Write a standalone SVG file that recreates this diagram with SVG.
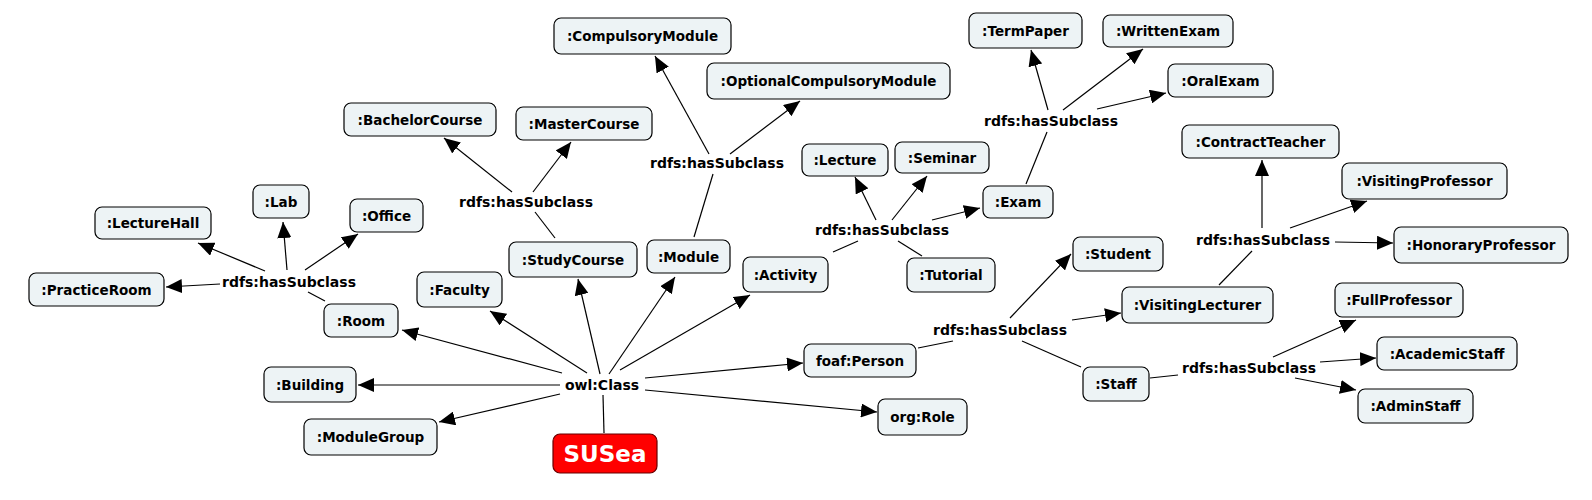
<svg xmlns="http://www.w3.org/2000/svg" width="1592" height="500" viewBox="0 0 1592 500">
<style>
.n rect{fill:#edf3f5;stroke:#000;stroke-width:1.2}
.n text{font-family:"DejaVu Sans",Verdana,sans-serif;font-weight:bold;font-size:13.5px;fill:#000;text-anchor:middle;dominant-baseline:central}
.lbl{font-family:"DejaVu Sans",Verdana,sans-serif;font-weight:bold;font-size:14px;fill:#000;text-anchor:middle;dominant-baseline:central}
.e line{stroke:#000;stroke-width:1.2}
.e line.a{marker-end:url(#ah)}
#susea rect{fill:#ff0000;stroke:#600}
#susea text{fill:#fff;font-size:23px}
</style>
<defs>
<marker id="ah" markerUnits="userSpaceOnUse" markerWidth="16" markerHeight="14" viewBox="0 0 16 14" refX="16" refY="7" orient="auto">
<path d="M0,0 L16,7 L0,14 z" fill="#000"/>
</marker>
</defs>
<rect width="1592" height="500" fill="#fff"/>
<g id="connectors" class="e">
<!-- owl:Class -->
<line class="a" x1="562" y1="373" x2="402" y2="330"/>
<line class="a" x1="560" y1="385" x2="358" y2="385"/>
<line class="a" x1="560" y1="394" x2="439" y2="422"/>
<line class="a" x1="587" y1="373" x2="490" y2="311"/>
<line class="a" x1="600" y1="374" x2="578" y2="279"/>
<line class="a" x1="609" y1="374" x2="675" y2="277"/>
<line class="a" x1="620" y1="370" x2="750" y2="295"/>
<line class="a" x1="645" y1="378" x2="803" y2="363"/>
<line class="a" x1="645" y1="390" x2="877" y2="412"/>
<line x1="603" y1="395" x2="604" y2="433"/>
<!-- Room -->
<line x1="325" y1="301" x2="308" y2="292"/>
<line class="a" x1="220" y1="284" x2="166" y2="287"/>
<line class="a" x1="265" y1="271" x2="198" y2="243"/>
<line class="a" x1="287" y1="270" x2="283" y2="222"/>
<line class="a" x1="305" y1="270" x2="358" y2="234"/>
<!-- StudyCourse -->
<line x1="555" y1="238" x2="535" y2="212"/>
<line class="a" x1="512" y1="192" x2="444" y2="138"/>
<line class="a" x1="533" y1="192" x2="571" y2="142"/>
<!-- Module -->
<line x1="694" y1="237" x2="713" y2="174"/>
<line class="a" x1="709" y1="154" x2="655" y2="56"/>
<line class="a" x1="730" y1="154" x2="800" y2="101"/>
<!-- Activity -->
<line x1="833" y1="252" x2="858" y2="241"/>
<line x1="898" y1="241" x2="922" y2="256"/>
<line class="a" x1="876" y1="220" x2="855" y2="177"/>
<line class="a" x1="892" y1="220" x2="927" y2="176"/>
<line class="a" x1="932" y1="220" x2="980" y2="208"/>
<!-- Exam -->
<line x1="1026" y1="184" x2="1047" y2="132"/>
<line class="a" x1="1048" y1="110" x2="1031" y2="50"/>
<line class="a" x1="1063" y1="110" x2="1143" y2="49"/>
<line class="a" x1="1097" y1="109" x2="1166" y2="93"/>
<!-- foaf:Person -->
<line x1="918" y1="348" x2="953" y2="341"/>
<line class="a" x1="1010" y1="318" x2="1071" y2="254"/>
<line class="a" x1="1072" y1="320" x2="1121" y2="313"/>
<line x1="1022" y1="341" x2="1081" y2="367"/>
<!-- VisitingLecturer -->
<line x1="1219" y1="285" x2="1252" y2="251"/>
<line class="a" x1="1262" y1="228" x2="1262" y2="160"/>
<line class="a" x1="1290" y1="228" x2="1367" y2="201"/>
<line class="a" x1="1335" y1="242" x2="1393" y2="243"/>
<!-- Staff -->
<line x1="1150" y1="378" x2="1178" y2="375"/>
<line class="a" x1="1273" y1="357" x2="1356" y2="320"/>
<line class="a" x1="1320" y1="362" x2="1376" y2="358"/>
<line class="a" x1="1295" y1="378" x2="1356" y2="390"/>
</g>
<g id="edge-labels">
<text class="lbl" x="602" y="385">owl:Class</text>
<text class="lbl" x="289" y="282">rdfs:hasSubclass</text>
<text class="lbl" x="526" y="202">rdfs:hasSubclass</text>
<text class="lbl" x="717" y="163">rdfs:hasSubclass</text>
<text class="lbl" x="882" y="230">rdfs:hasSubclass</text>
<text class="lbl" x="1051" y="121">rdfs:hasSubclass</text>
<text class="lbl" x="1000" y="330">rdfs:hasSubclass</text>
<text class="lbl" x="1263" y="240">rdfs:hasSubclass</text>
<text class="lbl" x="1249" y="368">rdfs:hasSubclass</text>
</g>
<g id="lecturehall" class="n"><rect x="95" y="207" width="116" height="32" rx="7"/><text x="153" y="223">:LectureHall</text></g>
<g id="lab" class="n"><rect x="253" y="185" width="56" height="33" rx="7"/><text x="281" y="201.5">:Lab</text></g>
<g id="office" class="n"><rect x="350" y="199" width="73" height="33" rx="7"/><text x="386.5" y="215.5">:Office</text></g>
<g id="practiceroom" class="n"><rect x="29" y="273" width="135" height="33" rx="7"/><text x="96.5" y="289.5">:PracticeRoom</text></g>
<g id="room" class="n"><rect x="324" y="304" width="74" height="33" rx="7"/><text x="361" y="320.5">:Room</text></g>
<g id="building" class="n"><rect x="264" y="367" width="92" height="35" rx="7"/><text x="310" y="384.5">:Building</text></g>
<g id="modulegroup" class="n"><rect x="304" y="419" width="133" height="36" rx="7"/><text x="370.5" y="437">:ModuleGroup</text></g>
<g id="faculty" class="n"><rect x="417" y="272" width="85" height="35" rx="7"/><text x="459.5" y="289.5">:Faculty</text></g>
<g id="bachelorcourse" class="n"><rect x="344" y="103" width="152" height="33" rx="7"/><text x="420" y="119.5">:BachelorCourse</text></g>
<g id="mastercourse" class="n"><rect x="516" y="107" width="136" height="33" rx="7"/><text x="584" y="123.5">:MasterCourse</text></g>
<g id="studycourse" class="n"><rect x="509" y="242" width="128" height="35" rx="7"/><text x="573" y="259.5">:StudyCourse</text></g>
<g id="compulsorymodule" class="n"><rect x="554" y="18" width="177" height="36" rx="7"/><text x="642.5" y="36">:CompulsoryModule</text></g>
<g id="optionalcompulsorymodule" class="n"><rect x="707" y="63" width="243" height="36" rx="7"/><text x="828.5" y="81">:OptionalCompulsoryModule</text></g>
<g id="module" class="n"><rect x="647" y="240" width="83" height="33" rx="7"/><text x="688.5" y="256.5">:Module</text></g>
<g id="activity" class="n"><rect x="743" y="257" width="85" height="35" rx="7"/><text x="785.5" y="274.5">:Activity</text></g>
<g id="lecture" class="n"><rect x="802" y="144" width="86" height="32" rx="7"/><text x="845" y="160">:Lecture</text></g>
<g id="seminar" class="n"><rect x="895" y="142" width="94" height="31" rx="7"/><text x="942" y="157.5">:Seminar</text></g>
<g id="tutorial" class="n"><rect x="907" y="258" width="88" height="34" rx="7"/><text x="951" y="275">:Tutorial</text></g>
<g id="exam" class="n"><rect x="983" y="186" width="70" height="32" rx="7"/><text x="1018" y="202">:Exam</text></g>
<g id="termpaper" class="n"><rect x="969" y="13" width="113" height="35" rx="7"/><text x="1025.5" y="30.5">:TermPaper</text></g>
<g id="writtenexam" class="n"><rect x="1103" y="15" width="130" height="32" rx="7"/><text x="1168" y="31">:WrittenExam</text></g>
<g id="oralexam" class="n"><rect x="1168" y="64" width="105" height="33" rx="7"/><text x="1220.5" y="80.5">:OralExam</text></g>
<g id="foafperson" class="n"><rect x="804" y="344" width="112" height="33" rx="7"/><text x="860" y="360.5">foaf:Person</text></g>
<g id="orgrole" class="n"><rect x="878" y="399" width="89" height="36" rx="7"/><text x="922.5" y="417">org:Role</text></g>
<g id="student" class="n"><rect x="1073" y="237" width="90" height="34" rx="7"/><text x="1118" y="254">:Student</text></g>
<g id="visitinglecturer" class="n"><rect x="1122" y="287" width="151" height="36" rx="7"/><text x="1197.5" y="305">:VisitingLecturer</text></g>
<g id="staff" class="n"><rect x="1083" y="367" width="66" height="34" rx="7"/><text x="1116" y="384">:Staff</text></g>
<g id="contractteacher" class="n"><rect x="1182" y="125" width="157" height="33" rx="7"/><text x="1260.5" y="141.5">:ContractTeacher</text></g>
<g id="visitingprofessor" class="n"><rect x="1342" y="163" width="165" height="36" rx="7"/><text x="1424.5" y="181">:VisitingProfessor</text></g>
<g id="honoraryprofessor" class="n"><rect x="1394" y="227" width="174" height="36" rx="7"/><text x="1481" y="245">:HonoraryProfessor</text></g>
<g id="fullprofessor" class="n"><rect x="1335" y="283" width="128" height="34" rx="7"/><text x="1399" y="300">:FullProfessor</text></g>
<g id="academicstaff" class="n"><rect x="1377" y="337" width="140" height="33" rx="7"/><text x="1447" y="353.5">:AcademicStaff</text></g>
<g id="adminstaff" class="n"><rect x="1358" y="389" width="115" height="34" rx="7"/><text x="1415.5" y="406">:AdminStaff</text></g>
<g id="susea" class="n"><rect x="553" y="434" width="104" height="39" rx="7"/><text x="605" y="453.5">SUSea</text></g>
</svg>
